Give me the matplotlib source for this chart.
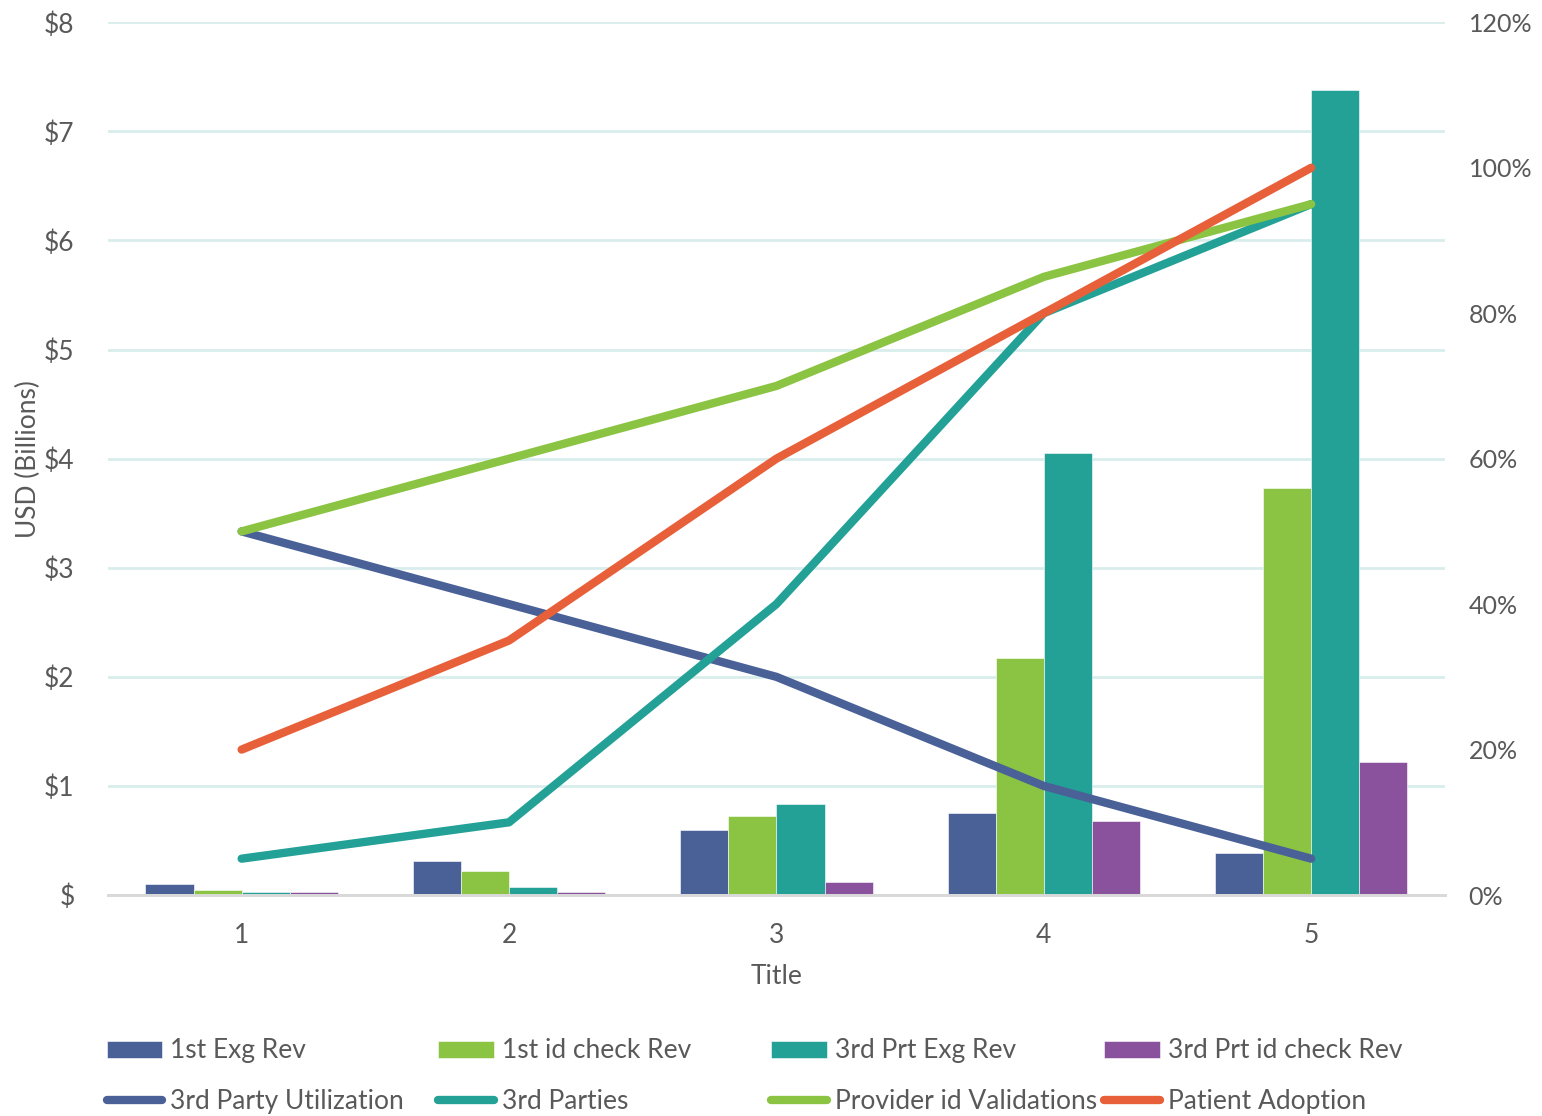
import numpy as np
import matplotlib.pyplot as plt
from matplotlib.ticker import FuncFormatter

plt.rcParams['font.family'] = ['Lato', 'DejaVu Sans']

categories = ['1', '2', '3', '4', '5']

# revenue bars, USD billions
first_exg_rev = [0.10, 0.31, 0.60, 0.75, 0.385]
first_id_rev = [0.05, 0.22, 0.72, 2.17, 3.73]
third_exg_rev = [0.03, 0.07, 0.83, 4.05, 7.38]
third_id_rev = [0.03, 0.03, 0.12, 0.68, 1.22]

# rates, percent
utilization = [50, 40, 30, 15, 5]
third_parties = [5, 10, 40, 80, 95]
provider_validations = [50, 60, 70, 85, 95]
patient_adoption = [20, 35, 60, 80, 100]

bar_names = ['1st Exg Rev', '1st id check Rev', '3rd Prt Exg Rev', '3rd Prt id check Rev']
line_names = ['3rd Party Utilization', '3rd Parties', 'Provider id Validations', 'Patient Adoption']

blue = '#4A6198'
green = '#8BC443'
teal = '#23A197'
purple = '#8A519C'
orange = '#E8603A'
txt = '#595959'
fs = 19

fig = plt.figure(figsize=(15.42, 11.16), dpi=100)
ax = fig.add_axes([0.070, 0.198, 0.867, 0.782])
ax2 = ax.twinx()

x = np.arange(len(categories))
w = 0.18
bars = []
for i, (vals, col, name) in enumerate(zip([first_exg_rev, first_id_rev, third_exg_rev, third_id_rev],
                                          [blue, green, teal, purple], bar_names)):
    b = ax.bar(x + (i - 1.5) * w, vals, w, color=col, edgecolor='white', linewidth=0.4, label=name)
    bars.append(b)

lines = []
for vals, col, name in zip([utilization, third_parties, provider_validations, patient_adoption],
                           [blue, teal, green, orange], line_names):
    l, = ax2.plot(x, vals, color=col, linewidth=6, solid_capstyle='round',
                  solid_joinstyle='round', label=name)
    lines.append(l)

ax.set_xlim(-0.5, 4.5)
ax.set_ylim(0, 8)
ax2.set_ylim(0, 120)
ax.set_yticks(range(0, 9))
ax2.set_yticks(range(0, 121, 20))
ax.yaxis.set_major_formatter(FuncFormatter(lambda v, p: '$' if v == 0 else '${:.0f}'.format(v)))
ax2.yaxis.set_major_formatter(FuncFormatter(lambda v, p: '{:.0f}%'.format(v)))
ax.set_xticks(x)
ax.set_xticklabels(categories)

ax.grid(axis='y', color='#D8EEEC', linewidth=2)
ax.set_axisbelow(True)
for a in (ax, ax2):
    for s in ('top', 'left', 'right'):
        a.spines[s].set_visible(False)
    a.spines['bottom'].set_color('#D9D9D9')
    a.spines['bottom'].set_linewidth(2)
    a.tick_params(length=0, labelsize=fs, labelcolor=txt)
ax2.tick_params(axis='y', labelsize=18)
ax.tick_params(axis='y', pad=24)
ax2.tick_params(axis='y', pad=17)
ax.tick_params(axis='x', pad=20)

ax.set_ylabel('USD (Billions)', fontsize=fs, color=txt, labelpad=2)
ax.set_xlabel('Title', fontsize=fs, color=txt, labelpad=12)

# one legend per column so the columns sit on an even grid
col_x = [0.059, 0.274, 0.490, 0.706]
for cx, b, l in zip(col_x, bars, lines):
    fig.legend(handles=[b, l], labels=[b.get_label(), l.get_label()],
               loc='lower left', bbox_to_anchor=(cx, -0.012), frameon=False,
               fontsize=fs, labelcolor=txt, handlelength=2.1, handleheight=0.6,
               handletextpad=0.3, labelspacing=0.95, borderaxespad=0.2)

fig.savefig('out.png', dpi=100)
